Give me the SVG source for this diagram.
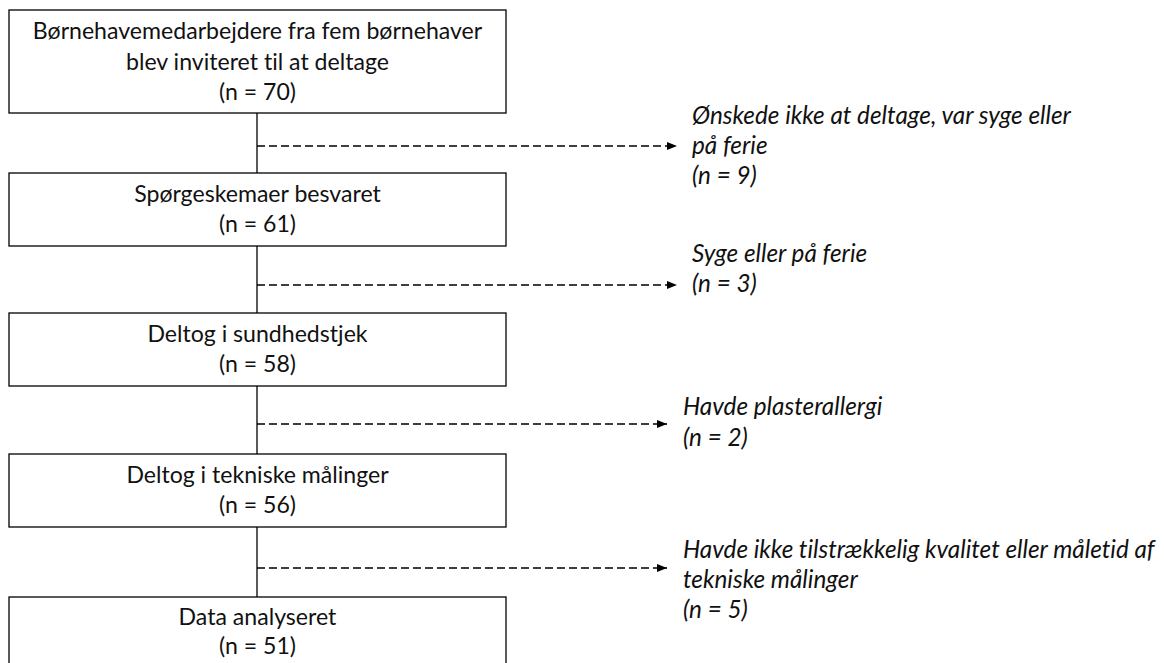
<svg xmlns="http://www.w3.org/2000/svg" width="1164" height="663" viewBox="0 0 1164 663">
<defs>
<marker id="ah" markerWidth="10" markerHeight="8" refX="10" refY="4" orient="auto" markerUnits="userSpaceOnUse">
<path d="M0,0 L10,4 L0,8 z" fill="#000"/>
</marker>
<style>
.box{fill:#fff;stroke:#000;stroke-width:1.3}
.t{font-family:Lato,"Liberation Sans",sans-serif;font-size:23.1px;fill:#111;text-anchor:middle;font-variant-ligatures:none}
.s{font-family:Lato,"Liberation Sans",sans-serif;font-size:24.3px;font-style:italic;fill:#111;font-variant-ligatures:none}
.v{stroke:#000;stroke-width:1.3;fill:none}
.d{stroke:#000;stroke-width:1.3;stroke-dasharray:8 4;fill:none;marker-end:url(#ah)}
</style>
</defs>
<rect width="1164" height="663" fill="#fff"/>
<g id="connectors">
<line class="v" x1="257" y1="113" x2="257" y2="173"/>
<line class="v" x1="257" y1="246" x2="257" y2="313"/>
<line class="v" x1="257" y1="386" x2="257" y2="454"/>
<line class="v" x1="257" y1="527" x2="257" y2="597"/>
<line class="d" x1="257" y1="146" x2="677" y2="146"/>
<line class="d" x1="257" y1="285" x2="677" y2="285"/>
<line class="d" x1="257" y1="424" x2="667" y2="424"/>
<line class="d" x1="257" y1="568" x2="667" y2="568"/>
</g>
<g id="n1">
<rect class="box" x="9" y="10" width="497" height="103"/>
<text class="t" x="257.5" y="39">Børnehavemedarbejdere fra fem børnehaver</text>
<text class="t" x="257.5" y="70">blev inviteret til at deltage</text>
<text class="t" x="257.5" y="100">(n = 70)</text>
</g>
<g id="n2">
<rect class="box" x="9" y="173" width="497" height="73"/>
<text class="t" x="257.5" y="202">Spørgeskemaer besvaret</text>
<text class="t" x="257.5" y="232">(n = 61)</text>
</g>
<g id="n3">
<rect class="box" x="9" y="313" width="497" height="73"/>
<text class="t" x="257.5" y="342">Deltog i sundhedstjek</text>
<text class="t" x="257.5" y="372">(n = 58)</text>
</g>
<g id="n4">
<rect class="box" x="9" y="454" width="497" height="73"/>
<text class="t" x="257.5" y="483">Deltog i tekniske målinger</text>
<text class="t" x="257.5" y="513">(n = 56)</text>
</g>
<g id="n5">
<rect class="box" x="9" y="597" width="497" height="90"/>
<text class="t" x="257.5" y="625">Data analyseret</text>
<text class="t" x="257.5" y="654">(n = 51)</text>
</g>
<g id="e1">
<text class="s" x="692" y="124">Ønskede ikke at deltage, var syge eller</text>
<text class="s" x="692" y="154">på ferie</text>
<text class="s" x="692" y="184">(n = 9)</text>
</g>
<g id="e2">
<text class="s" x="692" y="262">Syge eller på ferie</text>
<text class="s" x="692" y="292">(n = 3)</text>
</g>
<g id="e3">
<text class="s" x="683" y="415">Havde plasterallergi</text>
<text class="s" x="683" y="446">(n = 2)</text>
</g>
<g id="e4">
<text class="s" x="683" y="558">Havde ikke tilstrækkelig kvalitet eller måletid af</text>
<text class="s" x="683" y="588">tekniske målinger</text>
<text class="s" x="683" y="618">(n = 5)</text>
</g>
</svg>
